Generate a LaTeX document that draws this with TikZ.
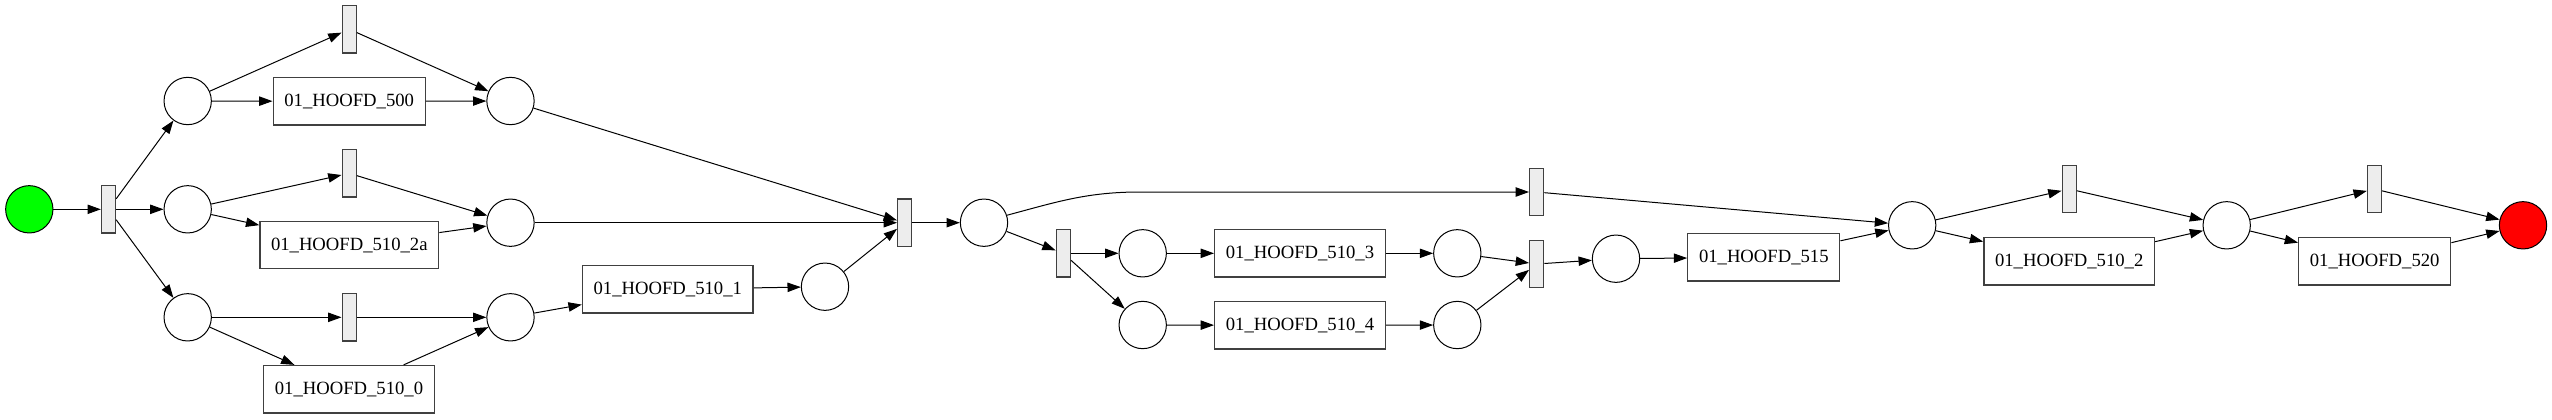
\documentclass[tikz,border=0pt]{standalone}
\usepackage{fontspec}
\setmainfont{Liberation Serif}
\usetikzlibrary{arrows.meta}
\begin{document}
\begin{tikzpicture}[x=0.75pt,y=-0.75pt,
  place/.style={circle,draw=black,line width=0.75pt,fill=white,minimum size=35.5pt,inner sep=0pt},
  trans/.style={draw=black!75,fill=black!7,line width=1pt,minimum width=10.5pt,minimum height=35.5pt,inner sep=0pt},
  task/.style={draw=black!75,fill=white,line width=1pt,minimum width=#1,minimum height=35.5pt,inner sep=0pt,font=\fontsize{14}{16}\selectfont},
  arc/.style={-{Triangle[length=10pt,width=7pt]},line width=0.75pt}
]
\useasboundingbox (0,0) rectangle (2552,419);
% nodes
\node[place,fill={rgb,255:red,0;green,255;blue,0}] (start) at (29.3,209.3) {};
\node[trans] (t0) at (108.5,209.3) {};
\node[place] (p1) at (187.7,101) {};
\node[place] (p2) at (187.7,209.3) {};
\node[place] (p3) at (187.7,317.3) {};
\node[trans] (ta) at (349.2,29.2) {};
\node[task=114pt] (b500) at (349.2,101.3) {01\_HOOFD\_500};
\node[trans] (tb) at (349.2,173.3) {};
\node[task=134pt] (b2a) at (349.3,245) {01\_HOOFD\_510\_2a};
\node[trans] (tc) at (349.2,317.3) {};
\node[task=128pt] (b0) at (349,389.2) {01\_HOOFD\_510\_0};
\node[place] (p4) at (510.5,101) {};
\node[place] (p5) at (510.5,222.7) {};
\node[place] (p6) at (510.5,317.3) {};
\node[task=128pt] (b1) at (667.8,289.3) {01\_HOOFD\_510\_1};
\node[place] (p7) at (825,286.7) {};
\node[trans] (tj) at (904.7,222.7) {};
\node[place] (p8) at (984,222.7) {};
\node[trans] (ts) at (1063.3,253.3) {};
\node[place] (p9) at (1142.7,253.3) {};
\node[place] (p10) at (1142.7,325) {};
\node[task=128pt] (b3) at (1300,253.3) {01\_HOOFD\_510\_3};
\node[task=128pt] (b4) at (1300,325.3) {01\_HOOFD\_510\_4};
\node[place] (p11) at (1457.3,253.3) {};
\node[place] (p12) at (1457.3,325) {};
\node[trans] (tk) at (1536.7,192) {};
\node[trans] (tj2) at (1536.7,264) {};
\node[place] (p13) at (1616,258.7) {};
\node[task=114pt] (b515) at (1763.8,257.3) {01\_HOOFD\_515};
\node[place] (p14) at (1912.2,225.3) {};
\node[trans] (t5) at (2069.2,189) {};
\node[task=128pt] (b2) at (2069.2,261.3) {01\_HOOFD\_510\_2};
\node[place] (p15) at (2226.7,225.3) {};
\node[trans] (t6) at (2374.5,189) {};
\node[task=114pt] (b520) at (2374.7,261.3) {01\_HOOFD\_520};
\node[place,fill={rgb,255:red,255;green,0;blue,0}] (end) at (2523,225.3) {};
\coordinate (bend) at (1140,192);
% arcs
\draw[arc] (start) -- (t0);
\draw[arc] (t0) -- (p1);
\draw[arc] (t0) -- (p2);
\draw[arc] (t0) -- (p3);
\draw[arc] (p1) -- (ta);
\draw[arc] (p1) -- (b500);
\draw[arc] (ta) -- (p4);
\draw[arc] (b500) -- (p4);
\draw[arc] (p2) -- (tb);
\draw[arc] (p2) -- (b2a);
\draw[arc] (tb) -- (p5);
\draw[arc] (b2a) -- (p5);
\draw[arc] (p3) -- (tc);
\draw[arc] (p3) -- (b0);
\draw[arc] (tc) -- (p6);
\draw[arc] (b0) -- (p6);
\draw[arc] (p4) -- (tj);
\draw[arc] (p5) -- (tj);
\draw[arc] (p6) -- (b1);
\draw[arc] (b1) -- (p7);
\draw[arc] (p7) -- (tj);
\draw[arc] (tj) -- (p8);
\draw[arc] (p8) -- (ts);
\draw[arc] (p8.18) to[out=15,in=180] (bend) -- (tk.west);
\draw[arc] (ts) -- (p9);
\draw[arc] (ts) -- (p10);
\draw[arc] (p9) -- (b3);
\draw[arc] (p10) -- (b4);
\draw[arc] (b3) -- (p11);
\draw[arc] (b4) -- (p12);
\draw[arc] (p11) -- (tj2);
\draw[arc] (p12) -- (tj2);
\draw[arc] (tk) -- (p14);
\draw[arc] (tj2) -- (p13);
\draw[arc] (p13) -- (b515);
\draw[arc] (b515) -- (p14);
\draw[arc] (p14) -- (t5);
\draw[arc] (p14) -- (b2);
\draw[arc] (t5) -- (p15);
\draw[arc] (b2) -- (p15);
\draw[arc] (p15) -- (t6);
\draw[arc] (p15) -- (b520);
\draw[arc] (t6) -- (end);
\draw[arc] (b520) -- (end);
\end{tikzpicture}
\end{document}
